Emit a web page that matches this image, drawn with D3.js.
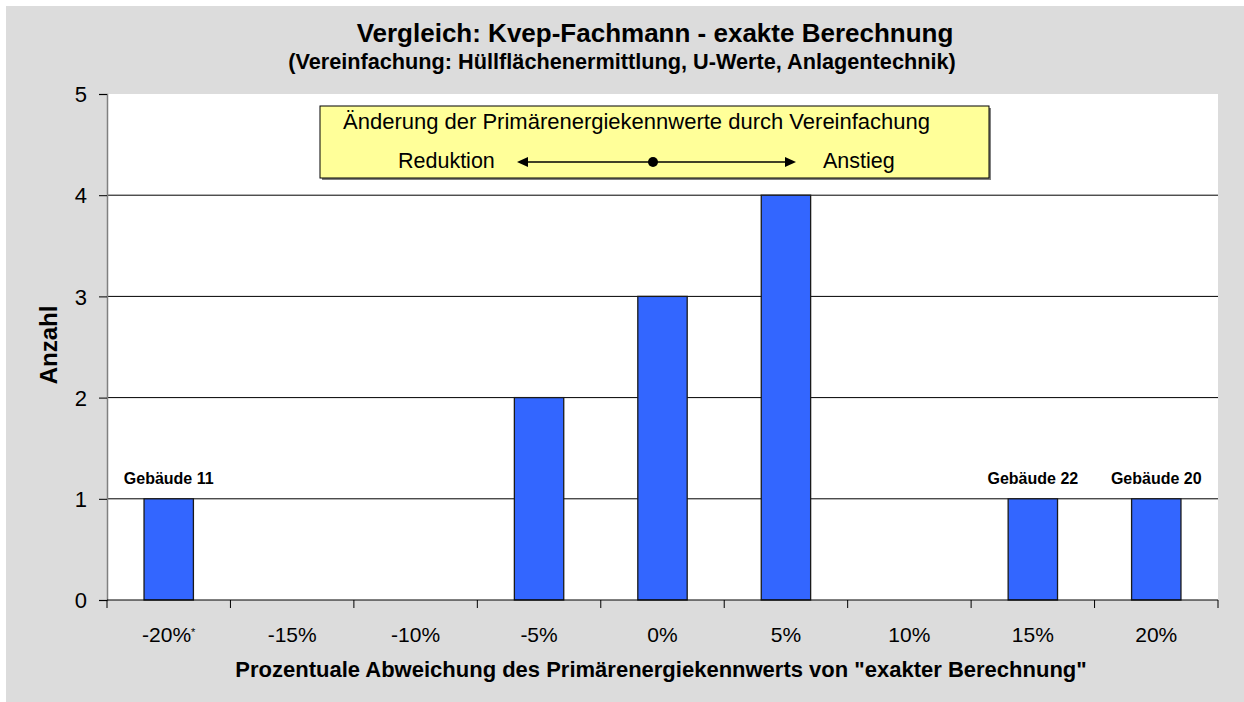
<!DOCTYPE html>
<html lang="de">
<head>
<meta charset="UTF-8">
<title>Vergleich: Kvep-Fachmann - exakte Berechnung</title>
<script src="https://cdn.jsdelivr.net/npm/d3@7"></script>
<style>
  body { margin: 0; background: #fff; }
  svg { font-family: "Liberation Sans", Arial, sans-serif; display: block; }
</style>
</head>
<body>
<div id="chart"></div>
<script>
// data
var categories = ["-20%", "-15%", "-10%", "-5%", "0%", "5%", "10%", "15%", "20%"];
var counts = [1, 0, 0, 2, 3, 4, 0, 1, 1];
var barLabels = { "-20%": "Gebäude 11", "15%": "Gebäude 22", "20%": "Gebäude 20" };
var yTicks = [0, 1, 2, 3, 4, 5];

var width = 1244, height = 702;
var plot = { left: 107, right: 1218, top: 94, bottom: 600 };

var svg = d3.select("#chart").append("svg")
  .attr("width", width).attr("height", height);

// outer gray frame
svg.append("rect")
  .attr("x", 6).attr("y", 6)
  .attr("width", width - 6).attr("height", height - 6)
  .attr("fill", "#dcdcdc");

// plot area
svg.append("rect")
  .attr("x", plot.left).attr("y", plot.top)
  .attr("width", plot.right - plot.left).attr("height", plot.bottom - plot.top)
  .attr("fill", "#fff");

var x = d3.scaleBand()
  .domain(categories)
  .range([plot.left, plot.right])
  .paddingInner(0.6)
  .paddingOuter(0.3);

var y = d3.scaleLinear().domain([0, 5]).range([plot.bottom, plot.top]);

// gridlines
svg.append("g").selectAll("line")
  .data(yTicks.filter(function (d) { return d > 0 && d < 5; }))
  .join("line")
  .attr("x1", plot.left).attr("x2", plot.right)
  .attr("y1", function (d) { return y(d); })
  .attr("y2", function (d) { return y(d); })
  .attr("stroke", "#000").attr("stroke-width", 1);

// bars
var data = categories.map(function (c, i) { return { cat: c, value: counts[i] }; });
svg.append("g").selectAll("rect")
  .data(data.filter(function (d) { return d.value > 0; }))
  .join("rect")
  .attr("x", function (d) { return x(d.cat); })
  .attr("y", function (d) { return y(d.value); })
  .attr("width", x.bandwidth())
  .attr("height", function (d) { return y(0) - y(d.value); })
  .attr("fill", "#3366ff")
  .attr("stroke", "#1a1a1a").attr("stroke-width", 1.3);

// bar labels
svg.append("g").selectAll("text")
  .data(data.filter(function (d) { return barLabels[d.cat]; }))
  .join("text")
  .attr("x", function (d) { return x(d.cat) + x.bandwidth() / 2; })
  .attr("y", function (d) { return y(d.value) - 15; })
  .attr("text-anchor", "middle")
  .attr("font-size", 16).attr("font-weight", "bold")
  .text(function (d) { return barLabels[d.cat]; });

// y axis
var yAxis = svg.append("g")
  .attr("transform", "translate(" + plot.left + ",0)")
  .call(d3.axisLeft(y).tickValues(yTicks).tickFormat(d3.format("d")).tickSize(8).tickPadding(12));
yAxis.select(".domain").attr("stroke", "#808080").attr("stroke-width", 1.5);
yAxis.selectAll(".tick line").attr("stroke", "#000");
yAxis.selectAll("text")
  .attr("font-size", 22).attr("font-family", "Liberation Sans, Arial, sans-serif")
  .attr("fill", "#000").attr("dy", "0.35em");

// x axis line and ticks at band edges
var step = x.step();
var edges = categories.map(function (c) { return x(c) - step * 0.3; }).concat([plot.right]);
svg.append("line")
  .attr("x1", plot.left).attr("x2", plot.right)
  .attr("y1", plot.bottom).attr("y2", plot.bottom)
  .attr("stroke", "#000").attr("stroke-width", 1.2);
svg.append("g").selectAll("line")
  .data(edges)
  .join("line")
  .attr("x1", function (d) { return d; }).attr("x2", function (d) { return d; })
  .attr("y1", plot.bottom).attr("y2", plot.bottom + 8)
  .attr("stroke", "#000");

var xl = svg.append("g").selectAll("text")
  .data(categories)
  .join("text")
  .attr("x", function (c) { return x(c) + x.bandwidth() / 2; })
  .attr("y", 642)
  .attr("text-anchor", "middle")
  .attr("font-size", 21);
xl.append("tspan").text(function (c) { return c; });
xl.filter(function (c) { return c === "-20%"; })
  .append("tspan").attr("font-size", 11).attr("dy", -6).text("*");

// titles
svg.append("text")
  .attr("x", 655).attr("y", 42)
  .attr("text-anchor", "middle")
  .attr("font-size", 26).attr("font-weight", "bold")
  .text("Vergleich: Kvep-Fachmann - exakte Berechnung");
svg.append("text")
  .attr("x", 622).attr("y", 69)
  .attr("text-anchor", "middle")
  .attr("font-size", 21.7).attr("font-weight", "bold")
  .text("(Vereinfachung: Hüllflächenermittlung, U-Werte, Anlagentechnik)");
svg.append("text")
  .attr("x", 661).attr("y", 677)
  .attr("text-anchor", "middle")
  .attr("font-size", 22).attr("font-weight", "bold")
  .text("Prozentuale Abweichung des Primärenergiekennwerts von \"exakter Berechnung\"");
svg.append("text")
  .attr("transform", "translate(57,345) rotate(-90)")
  .attr("text-anchor", "middle")
  .attr("font-size", 24).attr("font-weight", "bold")
  .text("Anzahl");

// annotation box
var box = svg.append("g");
box.append("rect")
  .attr("x", 322).attr("y", 108).attr("width", 669).attr("height", 72)
  .attr("fill", "#808080");
box.append("rect")
  .attr("x", 320).attr("y", 106).attr("width", 669).attr("height", 72)
  .attr("fill", "#ffff99").attr("stroke", "#000").attr("stroke-width", 1);
box.append("text")
  .attr("x", 343).attr("y", 129)
  .attr("font-size", 22)
  .text("Änderung der Primärenergiekennwerte durch Vereinfachung");
box.append("text")
  .attr("x", 398).attr("y", 168)
  .attr("font-size", 21.5)
  .text("Reduktion");
box.append("text")
  .attr("x", 823).attr("y", 168)
  .attr("font-size", 21.5)
  .text("Anstieg");
box.append("line")
  .attr("x1", 525).attr("x2", 787).attr("y1", 162).attr("y2", 162)
  .attr("stroke", "#000").attr("stroke-width", 1.5);
box.append("path").attr("d", "M517,162 L528,157 L528,167 Z").attr("fill", "#000");
box.append("path").attr("d", "M796,162 L785,157 L785,167 Z").attr("fill", "#000");
box.append("circle").attr("cx", 653).attr("cy", 162).attr("r", 5).attr("fill", "#000");
</script>
</body>
</html>
